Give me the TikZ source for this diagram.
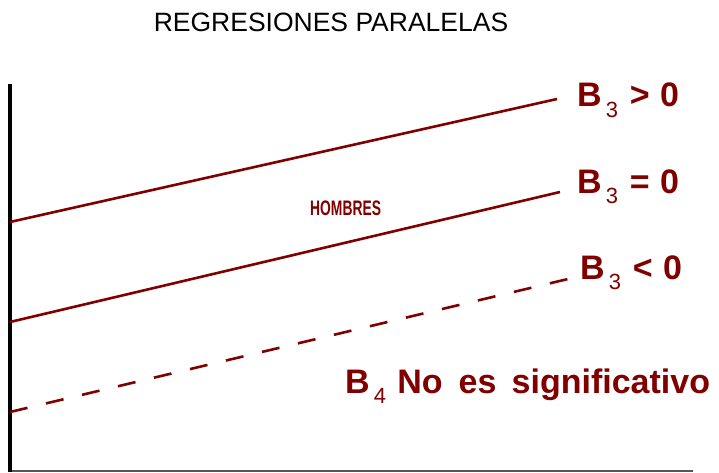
\documentclass[tikz,border=0pt]{standalone}
\usepackage{fontspec}
\setmainfont{Liberation Sans}
\definecolor{darkred}{HTML}{800000}
\definecolor{axisgray}{HTML}{555555}
\tikzset{
  regline/.style={draw=darkred, line width=2.6pt},
  dashline/.style={draw=darkred, line width=2.6pt, dash pattern=on 18pt off 19pt},
  lab/.style={anchor=base west, inner sep=0pt, text=darkred, font=\fontsize{34}{34}\selectfont\bfseries},
}
\newcommand{\subnum}[1]{\raisebox{-0.3em}{\fontsize{22}{22}\selectfont\mdseries #1}}
\begin{document}
\begin{tikzpicture}[x=1pt,y=-1pt]
\useasboundingbox (0,0) rectangle (719,473);
% title
\node[anchor=base, inner sep=0pt, font=\fontsize{26.5}{26.5}\selectfont] (title) at (331,32) {REGRESIONES PARALELAS};
% axes
\coordinate (o) at (10,471);
\coordinate (ytop) at (10,84);
\coordinate (xend) at (693,471);
\draw[axisgray, line width=1.5pt] (o) -- (xend);
\draw[black, line width=3.5pt] (10,472) -- (ytop);
% regression lines
\coordinate (a1) at (10,222); \coordinate (a2) at (557,99);
\coordinate (b1) at (10,322); \coordinate (b2) at (560,192);
\coordinate (c1) at (10,412); \coordinate (c2) at (568,279);
\draw[regline] (a1) -- (a2);
\draw[regline] (b1) -- (b2);
\draw[dashline] (c1) -- (c2);
% labels
\node[lab] (l1) at (577,107) {B\hspace{0.12em}\subnum{3}\hspace{0.35em}>\hspace{0.3em}0};
\node[lab] (l2) at (577,193) {B\hspace{0.12em}\subnum{3}\hspace{0.35em}=\hspace{0.3em}0};
\node[lab] (l3) at (580,279) {B\hspace{0.12em}\subnum{3}\hspace{0.35em}<\hspace{0.3em}0};
\node[lab] (l4) at (345,393) {B\hspace{0.12em}\subnum{4}\hspace{0.33em}No\hspace{0.47em}es\hspace{0.45em}significativo};
\node[anchor=base west, inner sep=0pt, text=darkred] (h) at (310,215) {\scalebox{0.66}[1]{\fontsize{21}{21}\selectfont\bfseries HOMBRES}};
\end{tikzpicture}
\end{document}
